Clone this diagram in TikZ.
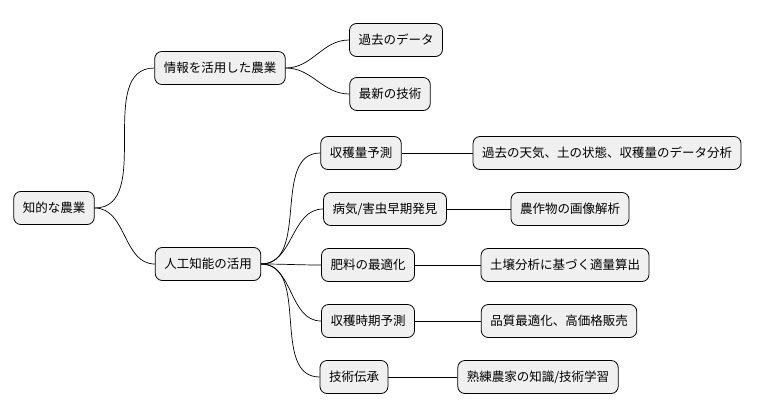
\documentclass[tikz,border=0pt]{standalone}
\usepackage{fontspec}
\setmainfont{Noto Sans CJK JP}
\usetikzlibrary{calc}

\begin{document}
\begin{tikzpicture}[x=1pt,y=-1pt,
  topic/.style={draw=black,fill=gray!12,rounded corners=7pt,line width=0.8pt,
    minimum height=33pt,inner xsep=9pt,font=\fontsize{12.5}{15}\selectfont},
  link/.style={line width=0.7pt,out=0,in=180}]

  \useasboundingbox (0,0) rectangle (768,415);

  \node[topic] (root) at (54,208) {知的な農業};

  \node[topic] (info) at (220,68) {情報を活用した農業};
  \node[topic] (ai) at (208,264) {人工知能の活用};

  \node[topic] (past) at (396,40) {過去のデータ};
  \node[topic] (tech) at (390,94) {最新の技術};

  \node[topic] (yield) at (361,153) {収穫量予測};
  \node[topic] (pest) at (385,209) {病気/害虫早期発見};
  \node[topic] (fert) at (368,265) {肥料の最適化};
  \node[topic] (timing) at (368,321) {収穫時期予測};
  \node[topic] (skill) at (354,377) {技術伝承};

  \node[topic] (yieldA) at (607,153) {過去の天気、土の状態、収穫量のデータ分析};
  \node[topic] (pestA) at (570,209) {農作物の画像解析};
  \node[topic] (fertA) at (565,265) {土壌分析に基づく適量算出};
  \node[topic] (timingA) at (559,321) {品質最適化、高価格販売};
  \node[topic] (skillA) at (538,377) {熟練農家の知識/技術学習};

  % branches
  \foreach \a/\b in {root/info,root/ai,info/past,info/tech,
      ai/yield,ai/pest,ai/fert,ai/timing,ai/skill}
    \draw[link] (\a.east) to (\b.west);

  \foreach \a in {yield,pest,fert,timing,skill}
    \draw[line width=0.7pt] (\a.east) -- (\a A.west);
\end{tikzpicture}
\end{document}
